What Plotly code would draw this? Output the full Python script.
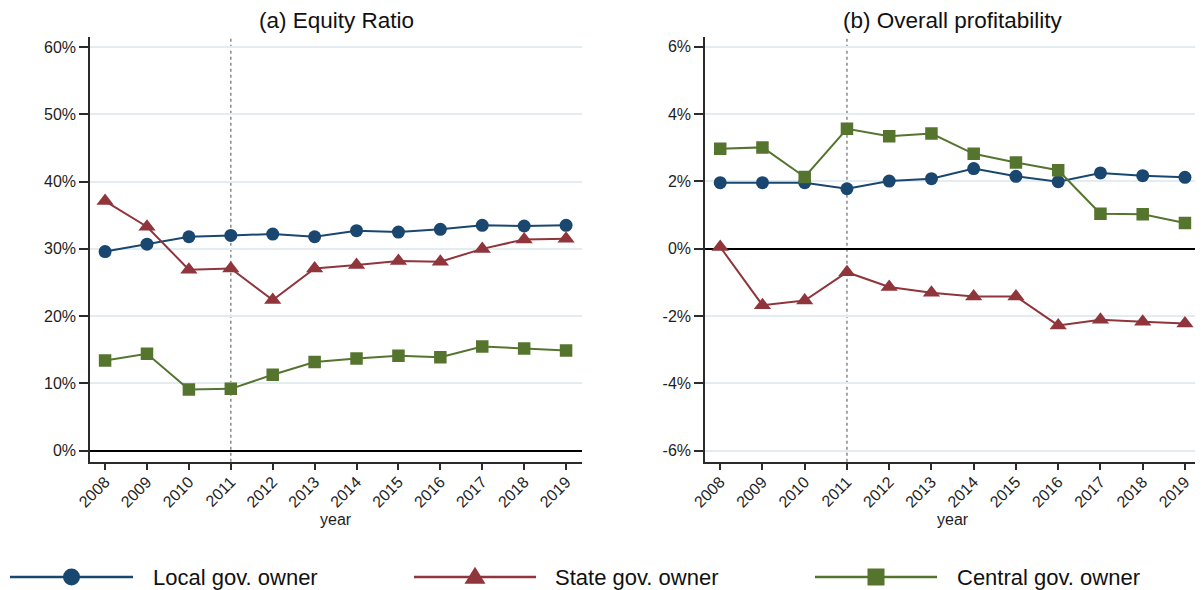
import plotly.graph_objects as go

# ---------------- data ----------------
years = [2008, 2009, 2010, 2011, 2012, 2013, 2014, 2015, 2016, 2017, 2018, 2019]

equity_local = [29.6, 30.7, 31.8, 32.0, 32.2, 31.8, 32.7, 32.5, 32.9, 33.5, 33.4, 33.5]
equity_state = [37.1, 33.3, 26.9, 27.1, 22.4, 27.1, 27.6, 28.2, 28.1, 30.0, 31.4, 31.5]
equity_central = [13.4, 14.4, 9.1, 9.2, 11.3, 13.2, 13.7, 14.1, 13.9, 15.5, 15.2, 14.9]

profit_local = [1.96, 1.96, 1.96, 1.78, 2.01, 2.08, 2.38, 2.15, 1.99, 2.25, 2.17, 2.12]
profit_state = [0.05, -1.68, -1.54, -0.70, -1.14, -1.31, -1.42, -1.42, -2.28, -2.11, -2.17, -2.22]
profit_central = [2.97, 3.01, 2.13, 3.56, 3.34, 3.42, 2.82, 2.56, 2.33, 1.04, 1.02, 0.76]

series_names = ["Local gov. owner", "State gov. owner", "Central gov. owner"]
panel_titles = ["(a) Equity Ratio", "(b) Overall profitability"]
x_title = "year"
equity_ticks = [0, 10, 20, 30, 40, 50, 60]
equity_ticklabels = ["0%", "10%", "20%", "30%", "40%", "50%", "60%"]
profit_ticks = [-6, -4, -2, 0, 2, 4, 6]
profit_ticklabels = ["-6%", "-4%", "-2%", "0%", "2%", "4%", "6%"]
event_year = 2011

# ---------------- style ----------------
# the page body has an 8px margin, so the figure is made 8px smaller and
# every layout position is shifted by 8px to land where the original has it
OFF = 8
W, H = 1203 - OFF, 590 - OFF
FONT = "Liberation Sans, Arial, sans-serif"
C_LOCAL = "#1a476f"
C_STATE = "#90353b"
C_CENTRAL = "#55752f"
GRID = "#e3edf1"
AXIS = "#2b2b2b"

colors = [C_LOCAL, C_STATE, C_CENTRAL]
symbols = ["circle", "triangle-up", "square"]
msizes = [13, 15, 12.5]


def px(x):
    return (x - OFF) / W


def py(y):
    return 1 - (y - OFF) / H


fig = go.Figure()

panels = [
    ("x", "y", [equity_local, equity_state, equity_central]),
    ("x2", "y2", [profit_local, profit_state, profit_central]),
]
for xa, ya, data in panels:
    for name, vals, col, sym, ms in zip(series_names, data, colors, symbols, msizes):
        fig.add_trace(go.Scatter(
            x=years, y=vals, name=name, mode="lines+markers",
            xaxis=xa, yaxis=ya, showlegend=False,
            line=dict(color=col, width=2),
            marker=dict(symbol=sym, size=ms, color=col, line=dict(width=0)),
            hoverinfo="x+y+name",
        ))

y_top = py(37)
y_bot = py(461.7)
xdom1 = [px(90), px(582)]
xdom2 = [px(705), px(1201)]
xrange = [2007.64, 2019.38]

xcommon = dict(
    range=xrange, tickmode="array", tickvals=years, ticktext=[str(y) for y in years],
    tickangle=-45, ticks="outside", ticklen=7, tickwidth=1.5, tickcolor=AXIS,
    ticklabelstandoff=-4,
    showline=True, linecolor=AXIS, linewidth=1.5, showgrid=False, zeroline=False,
    tickfont=dict(family=FONT, size=16, color="#1e1e1e"), automargin=False,
)
ycommon = dict(
    ticks="outside", ticklen=9, tickwidth=1.5, tickcolor=AXIS, tickmode="array",
    showline=True, linecolor=AXIS, linewidth=1.5,
    showgrid=True, gridcolor=GRID, gridwidth=1.5,
    zeroline=True, zerolinecolor="#000000", zerolinewidth=2,
    tickfont=dict(family=FONT, size=16, color="#1e1e1e"), automargin=False,
)

fig.update_layout(
    width=W, height=H,
    margin=dict(l=0, r=0, t=0, b=0, pad=0),
    paper_bgcolor="white", plot_bgcolor="white",
    font=dict(family=FONT, color="#222"),
    showlegend=False,
    xaxis=dict(domain=xdom1, anchor="y", **xcommon),
    yaxis=dict(domain=[y_bot, y_top], anchor="x", range=[-1.63, 61.49],
               tickvals=equity_ticks, ticktext=equity_ticklabels, **ycommon),
    xaxis2=dict(domain=xdom2, anchor="y2", **xcommon),
    yaxis2=dict(domain=[y_bot, y_top], anchor="x2", range=[-6.33, 6.29],
                tickvals=profit_ticks, ticktext=profit_ticklabels, **ycommon),
)

# vertical dotted event line
for xr, yr in [("x", "y domain"), ("x2", "y2 domain")]:
    fig.add_shape(type="line", xref=xr, yref=yr, x0=event_year, x1=event_year,
                  y0=0, y1=1, line=dict(color="#8a8a8a", width=1.5, dash="dot"),
                  layer="below")

# titles and x-axis labels
annotations = []
for dom, title in zip([xdom1, xdom2], panel_titles):
    cx = (dom[0] + dom[1]) / 2
    annotations.append(dict(x=cx, y=py(20), xref="paper", yref="paper", text=title,
                            showarrow=False, xanchor="center", yanchor="middle",
                            font=dict(family=FONT, size=22.5, color="#111")))
    annotations.append(dict(x=cx, y=py(519), xref="paper", yref="paper", text=x_title,
                            showarrow=False, xanchor="center", yanchor="middle",
                            font=dict(family=FONT, size=16, color="#1e1e1e")))

# manual legend (long line swatches, as in the original)
leg_y = 577
leg_items = [(10, 133, 151), (414, 536, 553), (815, 937, 955)]
for (x0, x1, tx), name, col, sym in zip(leg_items, series_names, colors, symbols):
    fig.add_shape(type="line", xref="paper", yref="paper",
                  x0=px(x0), x1=px(x1), y0=py(leg_y), y1=py(leg_y),
                  line=dict(color=col, width=2.5))
    cx = (x0 + x1) / 2
    if sym == "circle":
        r = 8.5
        fig.add_shape(type="circle", xref="paper", yref="paper",
                      x0=px(cx - r), x1=px(cx + r), y0=py(leg_y + r), y1=py(leg_y - r),
                      fillcolor=col, line=dict(width=0))
    elif sym == "square":
        r = 8.5
        fig.add_shape(type="rect", xref="paper", yref="paper",
                      x0=px(cx - r), x1=px(cx + r), y0=py(leg_y + r), y1=py(leg_y - r),
                      fillcolor=col, line=dict(width=0))
    else:
        hw, h = 10.5, 17
        path = "M {:.5f},{:.5f} L {:.5f},{:.5f} L {:.5f},{:.5f} Z".format(
            px(cx - hw), py(leg_y + h * 0.4), px(cx + hw), py(leg_y + h * 0.4),
            px(cx), py(leg_y - h * 0.6))
        fig.add_shape(type="path", xref="paper", yref="paper", path=path,
                      fillcolor=col, line=dict(width=0))
    annotations.append(dict(x=px(tx), y=py(leg_y), xref="paper", yref="paper", text=name,
                            showarrow=False, xanchor="left", yanchor="middle",
                            font=dict(family=FONT, size=22, color="#111")))

fig.update_layout(annotations=annotations)

fig.write_html("out.html")
